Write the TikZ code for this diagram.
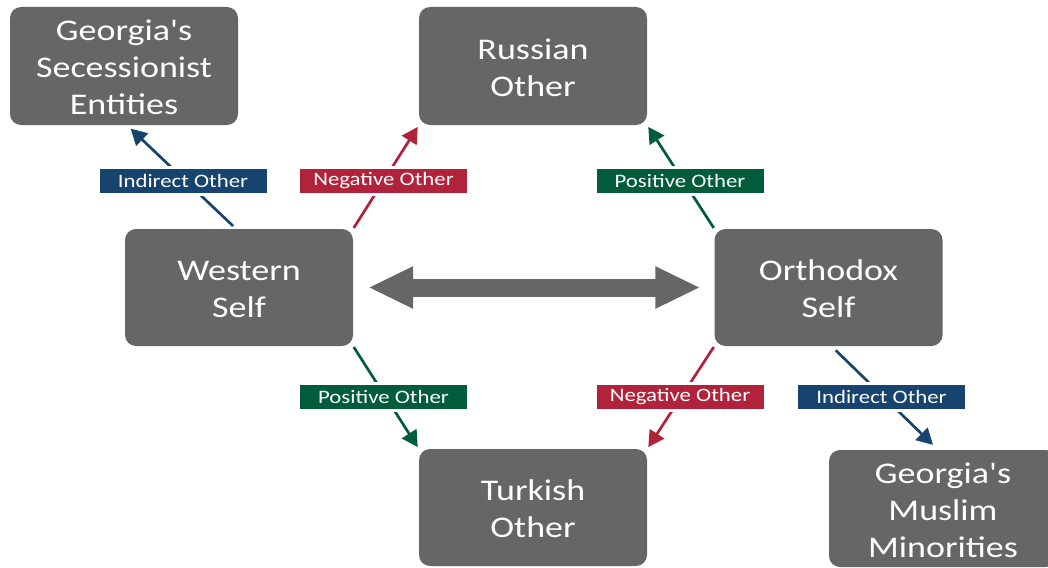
\documentclass[tikz,border=0pt]{standalone}
\usepackage{fontspec}
\setmainfont{Carlito}[Ligatures=TeXOff]
\usetikzlibrary{arrows.meta}
\definecolor{boxgray}{HTML}{666666}
\definecolor{indblue}{HTML}{17446E}
\definecolor{negred}{HTML}{B1233A}
\definecolor{posgreen}{HTML}{005C3B}
\newcommand{\sx}[1]{\scalebox{1.2}[1]{#1}}
\newcommand{\bt}[1]{\raisebox{-4.5pt}[\height][\depth]{\begin{tabular}{@{}c@{}}#1\end{tabular}}}
\tikzset{
  box/.style={fill=boxgray, rounded corners=11pt, minimum width=228pt, minimum height=117pt,
    inner sep=0pt, text=white, font=\fontsize{30}{37}\selectfont},
  lab/.style={fill=#1, draw=white, line width=3pt, minimum width=170pt, minimum height=27pt,
    inner sep=0pt, text=white, font=\fontsize{19}{22}\selectfont},
  conn/.style={draw=#1, line width=2.7pt, -{Triangle[length=16pt 0 0,width=17pt 0 0]}},
  bigarrow/.style={draw=boxgray, line width=18pt, {Triangle[length=45pt 0 0,width=39pt 0 0]}-{Triangle[length=45pt 0 0,width=39pt 0 0]}}
}
\begin{document}
\begin{tikzpicture}[x=1pt,y=-1pt]
\useasboundingbox (0,0) rectangle (1048,567);
\node[box, minimum height=118pt] (G) at (124,66) {\bt{\sx{Georgia's}\\\sx{Secessionist}\\\sx{Entities}}};
\node[box, minimum height=118pt] (R) at (533,66) {\bt{\sx{Russian}\\\sx{Other}}};
\node[box] (W) at (239,287.5) {\bt{\sx{Western}\\\sx{Self}}};
\node[box] (O) at (828.5,287.5) {\bt{\sx{Orthodox}\\\sx{Self}}};
\node[box] (T) at (533,507.5) {\bt{\sx{Turkish}\\\sx{Other}}};
\node[box] (M) at (943,508.5) {\bt{\sx{Georgia's}\\\sx{Muslim}\\\sx{Minorities}}};

\draw[bigarrow, shorten <=15pt, shorten >=14pt] (W.east) -- (O.west);

\draw[conn=indblue, shorten <=4pt, shorten >=5pt] ([xshift=-3pt]W.north) -- ([xshift=3pt]G.south);
\draw[conn=negred, shorten <=1pt, shorten >=2pt] (W.north east) -- (R.south west);
\draw[conn=posgreen, shorten <=1pt, shorten >=2pt] (O.north west) -- (R.south east);
\draw[conn=posgreen, shorten <=1pt, shorten >=2pt] (W.south east) -- (T.north west);
\draw[conn=negred, shorten <=1pt, shorten >=2pt] (O.south west) -- (T.north east);
\draw[conn=indblue, shorten <=6pt, shorten >=7pt] ([xshift=3pt]O.south) -- ([xshift=-5pt]M.north);

\node[lab=indblue] (l1) at (183,181) {\sx{Indirect Other}};
\node[lab=negred] (l2) at (383.5,181) {\sx{Negative Other}};
\node[lab=posgreen] (l3) at (680,181) {\sx{Positive Other}};
\node[lab=posgreen] (l4) at (383.5,397) {\sx{Positive Other}};
\node[lab=negred] (l5) at (680,397) {\sx{Negative Other}};
\node[lab=indblue] (l6) at (881.5,397) {\sx{Indirect Other}};
\end{tikzpicture}
\end{document}
